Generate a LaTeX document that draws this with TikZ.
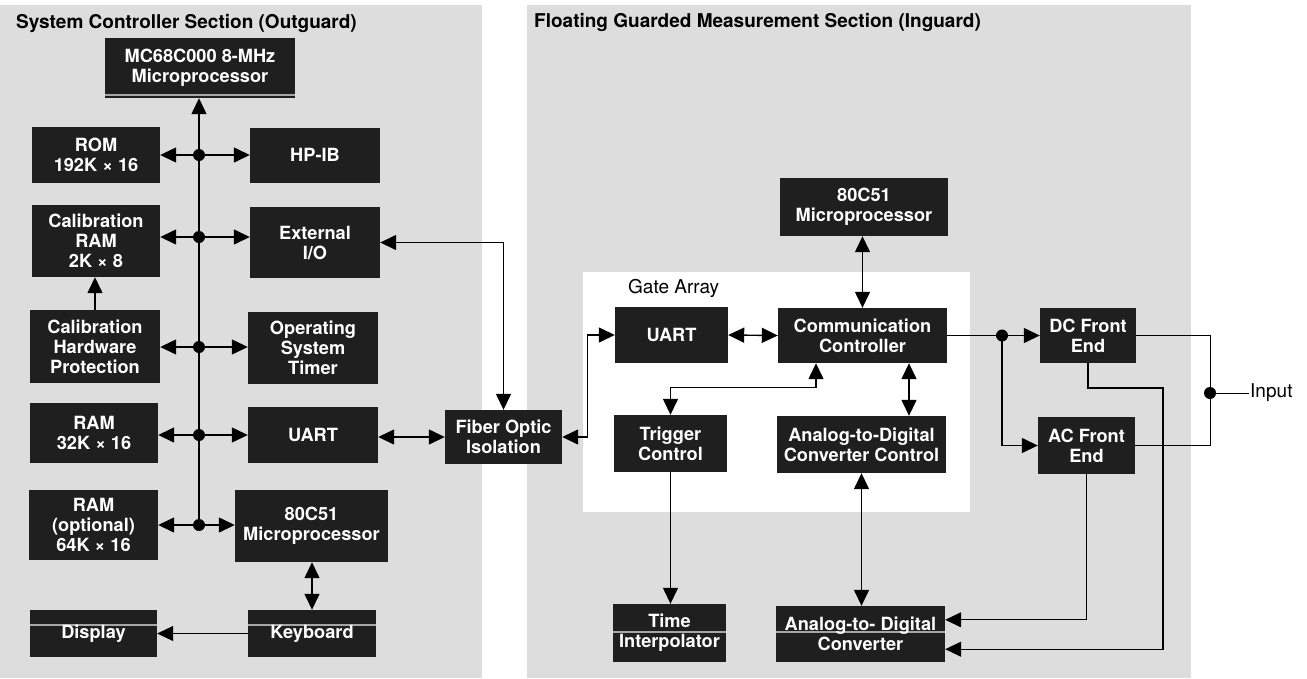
\documentclass[tikz,border=0pt]{standalone}
\usepackage{fontspec}
\setmainfont{TeX Gyre Heros}
\usetikzlibrary{arrows.meta,calc}
\begin{document}
\begin{tikzpicture}[x=1pt,y=-1pt,
  blk/.style={fill=black!88, text=white, font=\bfseries\fontsize{18.2}{20}\selectfont,
    align=center, inner sep=0pt, anchor=center},
  stripe/.style={path picture={\draw[black!35, line width=1.3pt]
    ([yshift=#1]path picture bounding box.north west) -- ([yshift=#1]path picture bounding box.north east);}},
  dot/.style={circle, fill=black, inner sep=0pt, minimum size=12pt},
  conn/.style={line width=1.4pt},
  arr/.style={conn, -{Triangle[length=16pt,width=15pt]}},
  darr/.style={conn, {Triangle[length=16pt,width=15pt]}-{Triangle[length=16pt,width=15pt]}},
  title/.style={font=\bfseries\fontsize{19}{22}\selectfont, anchor=west, inner sep=0pt},
  plain/.style={font=\fontsize{19}{22}\selectfont, anchor=west, inner sep=0pt}
]
\useasboundingbox (0,0) rectangle (1307,678);
\fill[white] (0,0) rectangle (1307,678);
% panels
\fill[gray!27] (0,5) rectangle (482,678);
\fill[gray!27] (527,5) rectangle (1191,678);
\fill[white] (583,272) rectangle (970,512);

\node[title] (t1) at (16,23) {System Controller Section (Outguard)};
\node[title] (t2) at (534,22) {Floating Guarded Measurement Section (Inguard)};
\node[plain] (ga) at (628,288) {Gate Array};

% left boxes
\node[blk, minimum width=190pt, minimum height=60pt, stripe=-57pt] (mc) at (200,68) {MC68C000 8-MHz\\Microprocessor};
\node[blk, minimum width=128pt, minimum height=56pt] (rom) at (96,155) {ROM\\192K × 16};
\node[blk, minimum width=130pt, minimum height=55pt] (hpib) at (315,155) {HP-IB};
\node[blk, minimum width=128pt, minimum height=72pt] (calram) at (96,241) {Calibration\\RAM\\2K × 8};
\node[blk, minimum width=130pt, minimum height=71pt] (extio) at (315,242.5) {External\\I/O};
\node[blk, minimum width=130pt, minimum height=73pt] (calhw) at (95,346.5) {Calibration\\Hardware\\Protection};
\node[blk, minimum width=130pt, minimum height=72pt] (ostimer) at (313,348) {Operating\\System\\Timer};
\node[blk, minimum width=128pt, minimum height=60pt] (ram32) at (94,433) {RAM\\32K × 16};
\node[blk, minimum width=130pt, minimum height=56pt] (uartL) at (313,435) {UART};
\node[blk, minimum width=129pt, minimum height=70pt] (ram64) at (93.5,525) {RAM\\(optional)\\64K × 16};
\node[blk, minimum width=153pt, minimum height=72pt] (c51L) at (311.5,526) {80C51\\Microprocessor};
\node[blk, minimum width=128pt, minimum height=47pt, stripe=-15pt] (kbd) at (312,633.5) {Keyboard};
\node[blk, minimum width=127pt, minimum height=47pt, stripe=-15pt] (disp) at (93.5,633.5) {Display};
\node[blk, minimum width=117pt, minimum height=54pt] (fiber) at (503.5,437) {Fiber Optic\\Isolation};

% right boxes
\node[blk, minimum width=168pt, minimum height=58pt] (c51R) at (864,207) {80C51\\Microprocessor};
\node[blk, minimum width=113pt, minimum height=56pt] (uartR) at (671.5,335) {UART};
\node[blk, minimum width=169pt, minimum height=55pt] (comm) at (862.5,335.5) {Communication\\Controller};
\node[blk, minimum width=113pt, minimum height=57pt] (trig) at (670.5,443.5) {Trigger\\Control};
\node[blk, minimum width=169pt, minimum height=57pt] (adcc) at (861.5,444.5) {Analog-to-Digital\\Converter Control};
\node[blk, minimum width=113pt, minimum height=58pt, stripe=-28pt] (timei) at (669.5,633) {Time\\Interpolator};
\node[blk, minimum width=169pt, minimum height=56pt, stripe=-26pt] (adc) at (860.5,634) {Analog-to- Digital\\Converter};
\node[blk, minimum width=96pt, minimum height=55pt] (dc) at (1088,335.5) {DC Front\\End};
\node[blk, minimum width=97pt, minimum height=57pt] (ac) at (1086.5,445.5) {AC Front\\End};

% bus
\node[dot] (j1) at (199,155) {};
\node[dot] (j2) at (199,237) {};
\node[dot] (j3) at (199,347) {};
\node[dot] (j4) at (199,435) {};
\node[dot] (j5) at (199,525) {};
\draw[arr] (j5.center) -- (j5.center |- mc.south);
\foreach \j/\l/\r in {j1/rom/hpib, j2/calram/extio, j3/calhw/ostimer, j4/ram32/uartL, j5/ram64/c51L}{
  \draw[arr] (\j) -- (\j -| \l.east);
  \draw[arr] (\j) -- (\j -| \r.west);
}
\draw[arr] (calhw.north) -- (calhw.north |- calram.south);
\draw[darr] (c51L.south -| kbd.north) -- (kbd.north);
\draw[line width=0.9pt, -{Triangle[length=16pt,width=15pt]}] (kbd.west) -- (disp.east);

% fiber links
\draw[darr] (extio.east) -| (fiber.north);
\draw[darr] (uartL.east |- fiber.west) -- (fiber.west);
\draw[darr] (fiber.east) -- ++(25,0) |- (uartR.west);

% inguard links
\draw[darr] (uartR.east) -- (comm.west);
\draw[darr] (c51R.south -| comm.north) -- (comm.north);
\draw[darr] ([xshift=-46.5pt]comm.south) -- ++(0,24) -| (trig.north);
\draw[darr] ([xshift=46.5pt]comm.south) -- ([xshift=46.5pt]comm.south |- adcc.north);
\draw[arr] (trig.south) -- (trig.south |- timei.north);
\draw[darr] (adcc.south) -- (adcc.south |- adc.north);

% front ends
\node[dot] (jc) at (1002,335.5) {};
\draw[conn] (comm.east) -- (jc);
\draw[arr] (jc) -- (dc.west);
\draw[arr] (jc.center) |- (ac.west);
\node[dot] (jin) at (1210,393) {};
\node[font=\fontsize{19}{22}\selectfont, anchor=west, inner sep=1pt] (inp) at (1249,393) {Input};
\draw[line width=1pt] (dc.east) -| (jin.center) |- (ac.east);
\draw[line width=1pt] (jin) -- (inp.west);
\coordinate (adcin1) at ($(adc.north east)+(0,14)$);
\coordinate (adcin2) at ($(adc.south east)+(0,-13)$);
\draw[line width=1.1pt, -{Triangle[length=16pt,width=15pt]}] (ac.south) |- (adcin1);
\draw[line width=1.1pt, -{Triangle[length=16pt,width=15pt]}] (dc.south) |- (1163,388) |- (adcin2);
\end{tikzpicture}
\end{document}
